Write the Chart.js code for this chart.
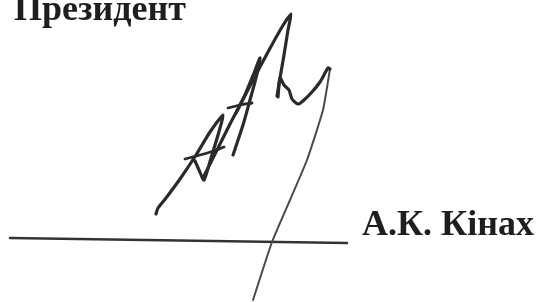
<!DOCTYPE html>
<html>
<head>
<meta charset="utf-8">
<script src="https://cdn.jsdelivr.net/npm/chart.js@4/dist/chart.umd.min.js"></script>
<style>
  html, body { margin: 0; padding: 0; background: #fff; }
  #wrap { position: relative; width: 537px; height: 302px; overflow: hidden; }
  canvas { position: absolute; left: 0; top: 0; }
  .t { position: absolute; font-family: 'Liberation Serif', 'Times New Roman', serif; font-weight: bold; color: #1e1e1e; line-height: 1; white-space: nowrap; }
  #title { left: 14px; top: -10.5px; font-size: 36px; }
  #name { left: 362px; top: 205px; font-size: 36px; }
</style>
</head>
<body>
<div id="wrap">
  <canvas id="c" width="537" height="302"></canvas>
  <div class="t" id="title">Президент</div>
  <div class="t" id="name">А.К. Кінах</div>
</div>
<script>
// Signature strokes (page units: x 0..537, y 0..302 from top)
const strokeA1 = [
  {x:156,y:214},{x:158,y:208},{x:166,y:198},{x:180,y:179},{x:196,y:155},{x:210,y:132},{x:223,y:115},
  {x:218,y:135},{x:211,y:158},{x:204,y:180},{x:199,y:170},{x:195,y:161}
];
const crossA1 = [{x:185,y:159},{x:200,y:155},{x:214,y:151},{x:224,y:147}];
const strokeA2 = [
  {x:204,y:176},{x:216,y:152},{x:230,y:124},{x:244,y:97},{x:254,y:73},{x:260,y:58},
  {x:256,y:78},{x:250,y:100},{x:243,y:125},{x:233,y:155}
];
const crossA2 = [{x:228,y:108},{x:240,y:105},{x:252,y:103}];
const strokeTall = [
  {x:236,y:113},{x:252,y:82},{x:268,y:52},{x:282,y:27},{x:291,y:14},
  {x:288,y:30},{x:284,y:55},{x:280,y:78},{x:277,y:96}
];
const strokeTail = [
  {x:278,y:97},{x:280,y:78},{x:284,y:85},{x:289,y:90},{x:292,y:99},{x:298,y:104},
  {x:304,y:100},{x:312,y:92},{x:320,y:82},{x:328,y:68},{x:330,y:69}
];
const strokeDown = [
  {x:330,y:69},{x:323,y:110},{x:307,y:160},{x:290,y:200},{x:272,y:242},{x:253,y:300}
];
const signLine = [{x:10,y:238},{x:347,y:243}];

const ds = (data, w, col, t) => ({
  data, showLine: true, borderColor: col, borderWidth: w, pointRadius: 0,
  tension: t, borderCapStyle: 'round', borderJoinStyle: 'round', fill: false
});

new Chart(document.getElementById('c'), {
  type: 'scatter',
  data: {
    datasets: [
      ds(strokeA1, 3.2, '#2a2a2a', 0.2),
      ds(crossA1, 2.8, '#2a2a2a', 0.2),
      ds(strokeA2, 3.2, '#2a2a2a', 0.2),
      ds(crossA2, 2.8, '#2a2a2a', 0.2),
      ds(strokeTall, 3.2, '#2a2a2a', 0.2),
      ds(strokeTail, 3.2, '#2a2a2a', 0.25),
      ds(strokeDown, 2, '#4a4a4a', 0.15),
      ds(signLine, 2.6, '#333333', 0)
    ]
  },
  options: {
    responsive: false,
    animation: false,
    layout: { padding: 0 },
    plugins: { legend: { display: false }, tooltip: { enabled: false }, title: { display: false } },
    scales: {
      x: { type: 'linear', min: 0, max: 537, display: false },
      y: { type: 'linear', min: 0, max: 302, reverse: true, display: false }
    }
  }
});
</script>
</body>
</html>
